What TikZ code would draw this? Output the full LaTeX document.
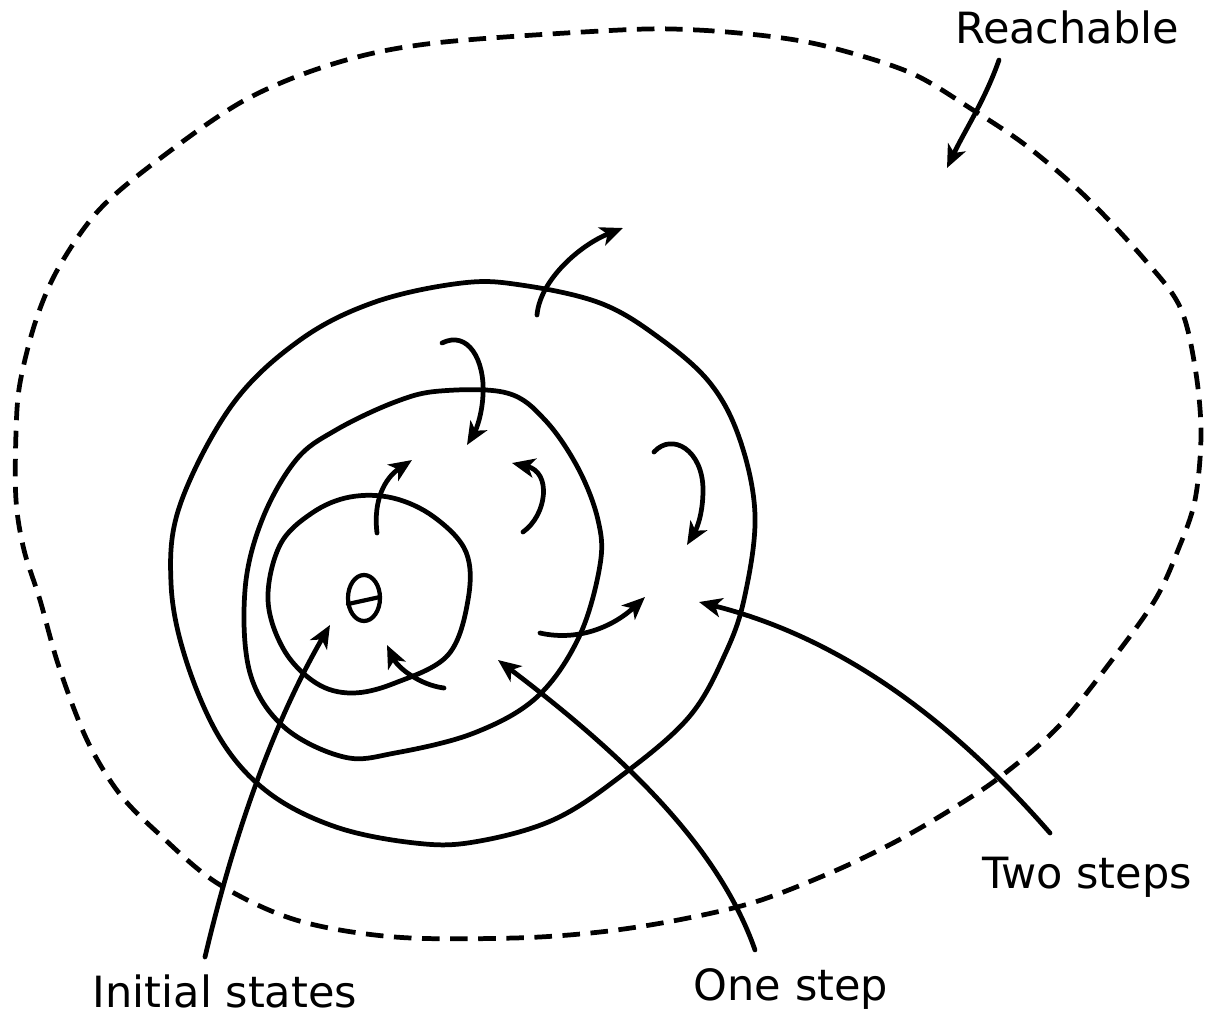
\documentclass[tikz,border=0pt]{standalone}
\usepackage{fontspec}
\setmainfont{DejaVu Sans}
\usetikzlibrary{arrows.meta}
\begin{document}
\begin{tikzpicture}[x=0.02cm,y=-0.02cm,
  pen/.style={line width=2.7pt,line cap=round,line join=round},
  dashpen/.style={line width=2.7pt,dash pattern=on 10pt off 6pt},
  arr/.style={pen,-{Stealth[length=13pt,width=11pt,inset=3.5pt]}},
  lbl/.style={anchor=base,inner sep=0pt,font=\fontsize{24.5}{29}\selectfont}]
\useasboundingbox (0,0) rectangle (1209,1021);

% Reachable region (dashed)
\draw[dashpen] plot[smooth cycle,tension=0.55] coordinates {
 (620,30) (697,30) (775,37) (833,48) (911,73) (973,110) (1028,147) (1086,197)
 (1145,260) (1180,307) (1195,367) (1201,433) (1195,500) (1178,550) (1155,600)
 (1112,660) (1058,727) (1000,777) (947,812) (893,843) (830,873) (755,902)
 (678,920) (600,932) (514,938) (395,937) (296,920) (217,883) (158,833)
 (119,793) (87,740) (59,667) (40,600) (24,550) (16,500) (16,433) (20,383)
 (36,320) (59,267) (99,210) (158,160) (245,100) (336,63) (435,43)};

% Two steps region
\draw[pen] plot[smooth cycle,tension=0.6] coordinates {
 (462,283) (521,285) (600,303) (658,337) (710,383) (740,440) (755,515)
 (745,595) (726,652) (689,717) (621,776) (553,820) (474,842) (415,843)
 (336,827) (269,793) (221,740) (186,660) (171,583) (180,505)
 (232,405) (300,340) (375,302)};

% One step region
\draw[pen] plot[smooth cycle,tension=0.6] coordinates {
 (440,391) (507,393) (545,420) (578,468) (598,520) (600,565) (579,637)
 (537,697) (474,733) (395,753) (344,757) (284,727) (250,673) (245,590)
 (262,520) (296,460) (336,430) (395,402)};

% Initial states region
\draw[pen] plot[smooth cycle,tension=0.6] coordinates {
 (350,497) (393,498) (434,517) (466,552) (468,600) (448,655) (395,683)
 (352,693) (316,683) (284,650) (268,600) (280,545) (312,513)};

% theta
\draw[pen,line width=2.4pt] (364,598) ellipse[x radius=16, y radius=23];
\draw[pen,line width=2.4pt] (348,604) -- (380,597);

% named coordinates for connectors
\coordinate (a1s) at (377,533); \coordinate (a1e) at (412,460);
\coordinate (a2s) at (442,343); \coordinate (a2m) at (483,395); \coordinate (a2e) at (467,445);
\coordinate (a3s) at (523,532); \coordinate (a3e) at (512,463);
\coordinate (a4s) at (537,315); \coordinate (a4e) at (623,228);
\coordinate (a5s) at (654,452); \coordinate (a5m) at (703,490); \coordinate (a5e) at (687,545);
\coordinate (a6s) at (540,633); \coordinate (a6e) at (645,597);
\coordinate (a7s) at (444,688); \coordinate (a7e) at (387,645);
\coordinate (is) at (205,957); \coordinate (ie) at (330,625);
\coordinate (os) at (755,950); \coordinate (oe) at (498,660);
\coordinate (ts) at (1050,833); \coordinate (te) at (699,602);
\coordinate (rs) at (999,60); \coordinate (re) at (947,168);

% transition arrows
\draw[arr] (a1s) .. controls (373,500) and (385,478) .. (a1e);
\draw[arr] (a2s) .. controls (468,330) and (485,360) .. (a2m) .. controls (482,415) and (476,430) .. (a2e);
\draw[arr] (a3s) .. controls (547,515) and (552,472) .. (a3e);
\draw[arr] (a4s) .. controls (540,280) and (580,245) .. (a4e);
\draw[arr] (a5s) .. controls (672,432) and (703,450) .. (a5m) .. controls (703,515) and (696,530) .. (a5e);
\draw[arr] (a6s) .. controls (580,642) and (615,625) .. (a6e);
\draw[arr] (a7s) .. controls (420,685) and (398,668) .. (a7e);

% labels
\node[lbl] (reach) at (1067,43) {Reachable};
\node[lbl] (init) at (225,1007) {Initial states};
\node[lbl] (one) at (791,1000) {One step};
\node[lbl] (two) at (1087,888) {Two steps};

% label pointers
\draw[arr] (is) .. controls (235,830) and (275,720) .. (ie);
\draw[arr] (os) .. controls (720,850) and (630,760) .. (oe);
\draw[arr] (ts) .. controls (960,730) and (850,640) .. (te);
\draw[arr] (rs) .. controls (985,100) and (965,130) .. (re);
\end{tikzpicture}
\end{document}
